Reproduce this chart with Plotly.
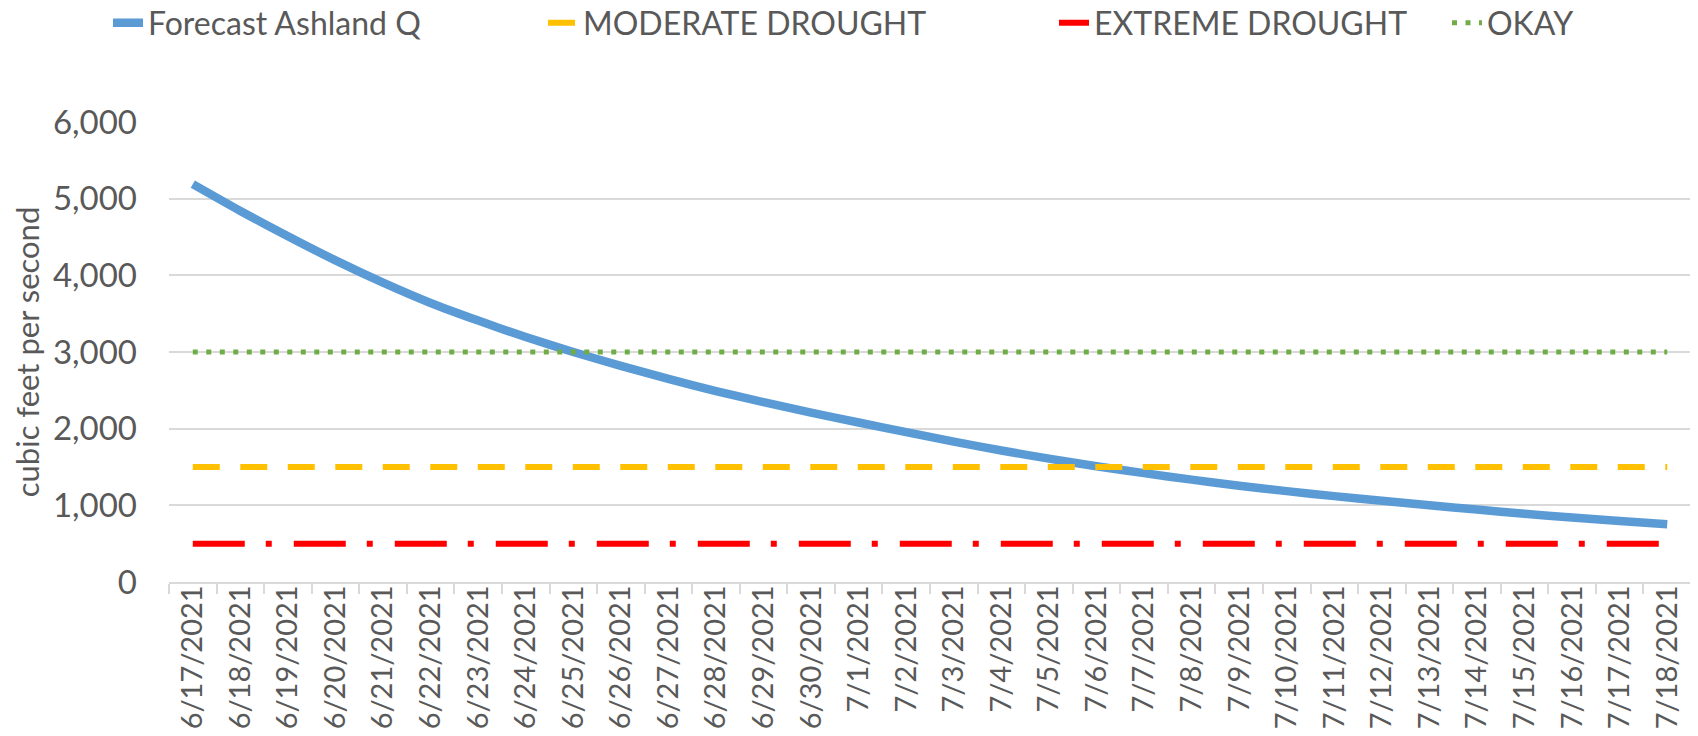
import plotly.graph_objects as go

# dates on the category axis
dates = ["6/17/2021", "6/18/2021", "6/19/2021", "6/20/2021", "6/21/2021", "6/22/2021",
         "6/23/2021", "6/24/2021", "6/25/2021", "6/26/2021", "6/27/2021", "6/28/2021",
         "6/29/2021", "6/30/2021", "7/1/2021", "7/2/2021", "7/3/2021", "7/4/2021",
         "7/5/2021", "7/6/2021", "7/7/2021", "7/8/2021", "7/9/2021", "7/10/2021",
         "7/11/2021", "7/12/2021", "7/13/2021", "7/14/2021", "7/15/2021", "7/16/2021",
         "7/17/2021", "7/18/2021"]

# forecast flow, cfs
forecast_q = [5190, 4840, 4510, 4195, 3905, 3640, 3410, 3195, 3000, 2820, 2650, 2490,
              2345, 2210, 2080, 1955, 1830, 1715, 1610, 1510, 1420, 1335, 1255, 1185,
              1120, 1060, 1000, 945, 890, 840, 795, 753]

# threshold levels
moderate_level = 1500
extreme_level = 500
okay_level = 3000

moderate = [moderate_level] * len(dates)
extreme = [extreme_level] * len(dates)
okay = [okay_level] * len(dates)

text_color = "#595959"
font_family = "Lato"

fig = go.Figure()
fig.add_trace(go.Scatter(x=dates, y=forecast_q, name="Forecast Ashland Q", mode="lines",
                         line=dict(color="#5B9BD5", width=8.5, shape="spline", smoothing=0.6),
                         legend="legend"))
fig.add_trace(go.Scatter(x=dates, y=moderate, name="MODERATE DROUGHT", mode="lines",
                         line=dict(color="#FFC000", width=6, dash="27px,20.5px"),
                         legend="legend2"))
fig.add_trace(go.Scatter(x=dates, y=extreme, name="EXTREME DROUGHT", mode="lines",
                         line=dict(color="#FF0000", width=6, dash="52px,21px,6px,22px"),
                         legend="legend3"))
fig.add_trace(go.Scatter(x=dates, y=okay, name="OKAY", mode="lines",
                         line=dict(color="#70AD47", width=5, dash="5px,8.5px"),
                         legend="legend4"))

# the page body adds an 8px offset, so the figure is 16px smaller than the window
W, H = 1690, 728


def legend_at(px):
    return dict(orientation="h", xref="container", yref="container",
                x=px / W, y=1 - 15 / H, xanchor="left", yanchor="middle",
                font=dict(family=font_family, size=32, color=text_color),
                bgcolor="rgba(0,0,0,0)", itemwidth=30)


fig.update_layout(
    width=W, height=H,
    margin=dict(l=161, r=7, t=114, b=154),
    paper_bgcolor="white", plot_bgcolor="white",
    font=dict(family=font_family, color=text_color),
    showlegend=True,
    legend=legend_at(100),
    legend2=legend_at(535),
    legend3=legend_at(1046),
    legend4=legend_at(1439),
)

fig.update_xaxes(
    type="category", range=[-0.5, len(dates) - 0.5], tickangle=-90, showgrid=False,
    showline=True, linecolor="#D9D9D9", linewidth=1.5,
    ticks="outside", tickson="boundaries", ticklen=10, tickcolor="#D9D9D9", tickwidth=1.5,
    ticklabelstandoff=-10,
    tickfont=dict(family=font_family, size=29, color=text_color),
    automargin=False,
)
fig.update_yaxes(
    range=[0, 6000], dtick=1000, tickformat=",",
    showgrid=True, gridcolor="#D9D9D9", gridwidth=1.5,
    showline=False, zeroline=False, ticks="",
    ticklabelstandoff=31,
    tickfont=dict(family=font_family, size=33, color=text_color),
    title=dict(text="cubic feet per second", standoff=8,
               font=dict(family=font_family, size=31, color=text_color)),
    automargin=False,
)

fig.write_html("out.html")
